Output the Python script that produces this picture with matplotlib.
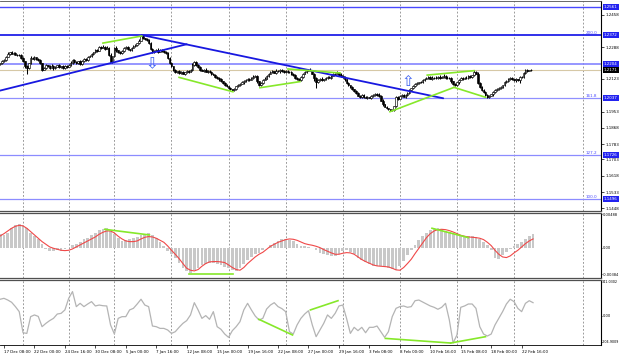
import numpy as np
import matplotlib
matplotlib.use("Agg")
import matplotlib.pyplot as plt
import matplotlib.transforms as mtransforms

# ---------------- data ----------------
first_bar = -2
first_open_pips = 200           # pips above 1.2000
close_pips = [
    205, 214, 222, 238, 252, 262, 255, 258, 250, 246,
    248, 232, 215, 190, 178, 205, 232, 228, 236, 225,
    222, 205, 172, 180, 195, 188, 182, 190, 178, 186,
    195, 184, 188, 180, 192, 186, 198, 205, 222, 212,
    205, 215, 200, 218, 228, 222, 238, 245, 252, 262,
    275, 270, 290, 285, 292, 280, 284, 250, 212, 240,
    284, 272, 262, 258, 270, 282, 290, 278, 274, 286,
    296, 300, 310, 322, 347, 336, 330, 326, 310, 280,
    263, 270, 276, 265, 274, 270, 262, 258, 232, 206,
    188, 170, 159, 162, 154, 160, 150, 158, 164, 160,
    170, 195, 211, 198, 184, 170, 166, 172, 160, 164,
    159, 150, 144, 133, 128, 120, 110, 100, 91, 85,
    75, 70, 65, 72, 85, 90, 98, 105, 112, 117,
    124, 118, 130, 134, 138, 110, 91, 100, 118, 125,
    140, 150, 159, 162, 156, 166, 162, 170, 164, 158,
    166, 160, 159, 150, 142, 130, 120, 117, 135, 150,
    159, 165, 170, 168, 150, 128, 105, 118, 125, 117,
    122, 128, 133, 130, 140, 148, 150, 154, 146, 138,
    133, 120, 100, 90, 81, 70, 60, 50, 35, 29,
    40, 30, 25, 28, 24, 32, 40, 45, 39, 35,
    10, -10, -23, -30, -35, -38, -39, -20, 29, 20,
    35, 40, 30, 39, 50, 65, 75, 85, 98, 100,
    106, 107, 118, 124, 130, 133, 125, 128, 130, 126,
    135, 130, 133, 140, 128, 130, 128, 110, 95, 91,
    105, 118, 128, 125, 130, 128, 138, 133, 142, 159,
    150, 102, 80, 65, 55, 40, 29, 35, 42, 55,
    65, 70, 78, 81, 90, 107, 112, 120, 128, 122,
    117, 120, 115, 133, 135, 152, 170, 165, 168, 171,
]
wick_unit_pips = 3
wick_up = ("1212312121 1211213121 2111212321 1212121312 1121212121 2121213121 "
           "1312121212 1213121212 1212121211 1121312121 2312121121 1212112121 "
           "1212121212 1213121212 1212131212 1212121212 1213121212 1212121312 "
           "1212121212 1212121213 1211112121 1212121212 1212121312 1213121212 "
           "1212121213 1312121212 1212121212 1212121211")
wick_dn = ("1212121212 1213912121 2121212121 1212121212 2121212121 1212121312 "
           "1212121212 1212121212 1212121212 1212121212 1212121212 1212121212 "
           "2121212121 1212132121 1212121212 1212121212 1212159121 2121212121 "
           "1212121212 1212121212 1212121212 1212121212 1212121212 1212121212 "
           "1212121212 1212121212 1212121212 1414121212")

level_prices = [1.2500, 1.2351, 1.2203, 1.2023, 1.1726, 1.1499]
level_tags = ["1.2561", "1.2372", "1.2204", "1.2037", "1.1726", "1.1496"]
level_fibs = ["", "200.0", "", "161.8", "127.2", "100.0"]
bid_price = 1.2171

price_ticks = [1.2458, 1.2288, 1.2123, 1.1953, 1.1868, 1.1783, 1.1703, 1.1618, 1.1533, 1.1448]

date_labels = ["17 Dec 08:00", "22 Dec 00:00", "24 Dec 16:00", "30 Dec 08:00", "5 Jan 00:00",
               "7 Jan 16:00", "12 Jan 08:00", "15 Jan 00:00", "19 Jan 16:00", "22 Jan 08:00",
               "27 Jan 00:00", "29 Jan 16:00", "3 Feb 08:00", "8 Feb 00:00", "10 Feb 16:00",
               "15 Feb 08:00", "18 Feb 00:00", "22 Feb 16:00"]
label_step = 16
grid_bars = [10, 34, 58, 88, 118, 148, 178, 208, 238, 268, 304]

ind_step = 2
macd_hist_e5 = [
    194, 184, 218, 290, 329, 348, 329, 281, 218, 169,
    121, 48, -24, -48, -48, -39, -48, -24, 0, 39,
    58, 87, 121, 145, 184, 218, 252, 271, 281, 242,
    194, 145, 97, 106, 121, 136, 160, 184, 203, 213,
    184, 145, 87, 24, -48, -97, -145, -218, -290, -339,
    -363, -329, -290, -252, -232, -218, -223, -242, -252, -281,
    -300, -329, -339, -300, -242, -184, -136, -97, -73, -39,
    0, 39, 73, 97, 121, 131, 116, 97, 58, 29,
    19, 10, -10, -39, -73, -97, -106, -121, -121, -87,
    -48, -39, -58, -97, -145, -184, -203, -232, -261, -266,
    -266, -281, -290, -310, -319, -266, -194, -106, -39, 39,
    106, 169, 218, 252, 281, 281, 266, 242, 223, 203,
    184, 174, 165, 165, 169, 155, 126, 87, 39, -39,
    -145, -160, -106, -63, -24, 24, 58, 87, 121, 165,
    203,
]
macd_signal_e5 = [
    169, 203, 242, 281, 310, 324, 315, 281, 232, 184,
    136, 87, 48, 10, -10, -24, -39, -44, -39, -19,
    10, 39, 68, 97, 126, 155, 194, 223, 242, 242,
    213, 165, 126, 97, 87, 87, 97, 126, 150, 160,
    155, 136, 106, 77, 24, -39, -97, -160, -232, -300,
    -329, -339, -319, -271, -232, -208, -203, -203, -208, -218,
    -252, -290, -319, -329, -290, -232, -184, -136, -97, -68,
    -24, 19, 48, 77, 97, 116, 126, 121, 106, 82,
    58, 44, 34, 19, 0, -29, -53, -77, -97, -97,
    -82, -73, -77, -97, -136, -174, -203, -227, -252, -266,
    -271, -276, -281, -300, -324, -329, -290, -232, -169, -87,
    -10, 68, 145, 203, 242, 261, 266, 261, 247, 227,
    203, 179, 165, 155, 150, 145, 136, 116, 77, 29,
    -39, -97, -136, -145, -121, -77, -39, 10, 58, 97,
    126,
]
cci_values = [
    127, 134, 121, 104, 71, 33, -127, -132, -5, 8,
    -3, -81, -56, -35, -18, 15, 20, 46, 134, 185,
    71, 96, 71, 91, 109, 76, 83, 78, 76, -68,
    -137, -18, -5, -5, 46, 58, 91, 127, 83, 71,
    -76, -81, -94, -94, -106, -132, -119, -86, -56, -35,
    8, 101, 46, -18, 3, -25, 33, -81, -101, -137,
    -162, -111, -81, -43, 46, 96, 46, 0, -30, -18,
    53, 83, 101, 71, 56, 33, -119, -137, -68, -18,
    15, 40, -68, -157, -106, -56, 8, -18, 20, 76,
    83, -18, -132, -86, -111, -86, -127, -86, -86, -76,
    -119, -162, -119, -5, 58, 71, 76, 66, 71, 116,
    121, 106, 91, 76, 66, 51, 66, 96, -30, -205,
    -144, 66, 76, 91, 91, 58, -81, -137, -152, -137,
    -68, -18, 33, 91, 127, 109, 58, 33, 96, 116,
    101,
]
macd_range = (-0.00442, 0.00503)
macd_tick_vals = [0.00488, 0.0, -0.00384]
macd_tick_text = ["0.00488", "0.00", "-0.00384"]
cci_range = (-220, 273)
cci_top_text, cci_bottom_text = "341.0302", "-204.9009"

# analyst drawings (bar index, value)
trend_lines = [((-2.1, 1.2062), (96.0, 1.2304)),
               ((72.4, 1.2352), (230.8, 1.2022))]
green_price = [((52, 1.2310), (72.4, 1.2347)),
               ((92, 1.2131), (120.3, 1.2056)),
               ((134.5, 1.2077), (155.5, 1.2109)),
               ((149.2, 1.2175), (176.6, 1.2154)),
               ((202.8, 1.1952), (236.5, 1.2079)),
               ((222.4, 1.2143), (247.0, 1.2166)),
               ((236.5, 1.2079), (253.1, 1.2027))]
green_macd = [((52.9, 0.00266), (76.4, 0.00184)),
              ((97.2, -0.00378), (120.4, -0.00378)),
              ((224.9, 0.00281), (244.0, 0.00145))]
green_cci = [((133.9, -25), (151.6, -144)),
             ((161.0, 46), (175.5, 116)),
             ((200.4, -170), (234.7, -205)),
             ((234.7, -205), (253.0, -157))]
arrows = [(77.6, 1.2204, "\u21e9"), (212.0, 1.2108, "\u21e7")]

# ---------------- figure ----------------
W, H = 620, 357
fig = plt.figure(figsize=(W / 100, H / 100), dpi=100)
fig.patch.set_facecolor("white")

def px_axes(top, bottom, left=0, right=601):
    return fig.add_axes([left / W, 1 - bottom / H, (right - left) / W, (bottom - top) / H])

ax = px_axes(1, 211)
axm = px_axes(213, 278)
axc = px_axes(280, 345)

xlim = (-2.1, 313.7)
FS = 2.9
FS_SMALL = 2.4
GREEN = "#86e82a"
for a in (ax, axm, axc):
    a.set_xlim(*xlim)
    a.set_facecolor("white")
    a.spines["left"].set_visible(False)
    a.spines["right"].set_color("black")
    a.spines["right"].set_linewidth(0.8)
    for s in ("top", "bottom"):
        a.spines[s].set_color("#505050")
        a.spines[s].set_linewidth(0.9)
    a.yaxis.tick_right()
    a.tick_params(axis="y", length=2, width=0.5, labelsize=FS, pad=1.2, colors="black")
    for gb in grid_bars:
        a.axvline(gb, color="#8a8a8a", lw=0.6, ls=(0, (2.2, 2.2)), zorder=0)
ax.spines["top"].set_linewidth(0.6)
ax.tick_params(axis="x", bottom=False, labelbottom=False)
axm.tick_params(axis="x", bottom=False, labelbottom=False)

# ---- price candles ----
pip = 1e-4
closes = 1.2 + np.array(close_pips) * pip
opens = np.concatenate([[1.2 + first_open_pips * pip], closes[:-1]])
up = np.array([int(c) for c in wick_up.replace(" ", "")]) * wick_unit_pips * pip
dn = np.array([int(c) for c in wick_dn.replace(" ", "")]) * wick_unit_pips * pip
n = len(closes)
bars = np.arange(first_bar, first_bar + n)
body_lo = np.minimum(opens, closes)
body_hi = np.maximum(opens, closes)
highs = body_hi + up[:n]
lows = body_lo - dn[:n]
ax.vlines(bars, lows, highs, color="black", lw=0.75, zorder=3)
bull = closes >= opens
heights = np.maximum(body_hi - body_lo, 0.00005)
ax.bar(bars[bull], heights[bull], bottom=body_lo[bull], width=0.85,
       facecolor="white", edgecolor="black", linewidth=0.45, zorder=4)
ax.bar(bars[~bull], heights[~bull], bottom=body_lo[~bull], width=0.85,
       facecolor="black", edgecolor="black", linewidth=0.45, zorder=4)

ax.set_ylim(1.14340, 1.25295)
ax.set_yticks(price_ticks)
ax.set_yticklabels([f"{v:.4f}" for v in price_ticks])

# levels
lev_colors = ["#4848ff", "#2020e8", "#8484ff", "#9090ff", "#8c8cff", "#8c8cff"]
lev_widths = [1.0, 1.3, 1.2, 0.9, 0.9, 0.9]
blend = mtransforms.blended_transform_factory(ax.transAxes, ax.transData)
for lv, tag, fib, c, lw in zip(level_prices, level_tags, level_fibs, lev_colors, lev_widths):
    ax.axhline(lv, color=c, lw=lw, zorder=2)
    ax.text(1.005, lv, tag, transform=blend, ha="left", va="center", fontsize=FS,
            color="white", clip_on=False, zorder=10,
            bbox=dict(boxstyle="square,pad=0.25", fc="#2323f0", ec="none"))
    if fib:
        ax.text(0.994, lv, fib, transform=blend, ha="right", va="bottom", fontsize=3.0,
                color="#4a4aff", zorder=10)
ax.axhline(bid_price, color="#d6c8a6", lw=0.8, zorder=1)
ax.text(1.005, bid_price, f"{bid_price:.4f}", transform=blend, ha="left", va="center",
        fontsize=FS, color="white", clip_on=False, zorder=10,
        bbox=dict(boxstyle="square,pad=0.25", fc="black", ec="none"))

for (x0, y0), (x1, y1) in trend_lines:
    ax.plot([x0, x1], [y0, y1], color="#1818e0", lw=1.3, zorder=5, solid_capstyle="round")
for (x0, y0), (x1, y1) in green_price:
    ax.plot([x0, x1], [y0, y1], color=GREEN, lw=1.2, zorder=5)
for xb, yv, sym in arrows:
    ax.text(xb, yv, sym, fontsize=11, color="#3a5ef0", ha="center", va="center", zorder=6)

# ---- MACD ----
kb = first_bar + ind_step * np.arange(len(macd_hist_e5))
mh = np.array(macd_hist_e5) * 1e-5
ms = np.array(macd_signal_e5) * 1e-5
axm.bar(kb, mh, width=1.45, color="#c8c8c8", linewidth=0, zorder=2)
axm.plot(kb, ms, color="#f04848", lw=0.8, zorder=4)
for (x0, y0), (x1, y1) in green_macd:
    axm.plot([x0, x1], [y0, y1], color=GREEN, lw=1.2, zorder=5)
axm.set_ylim(*macd_range)
axm.set_yticks(macd_tick_vals)
axm.set_yticklabels(macd_tick_text)
axm.tick_params(axis="y", length=1, pad=0.6, labelsize=2.6)

# ---- CCI ----
cb = first_bar + ind_step * np.arange(len(cci_values))
axc.plot(cb, cci_values, color="#b4b4b4", lw=0.9, zorder=3)
for (x0, y0), (x1, y1) in green_cci:
    axc.plot([x0, x1], [y0, y1], color=GREEN, lw=1.2, zorder=5)
axc.set_ylim(*cci_range)
axc.set_yticks([0])
axc.set_yticklabels(["0.00"])
axc.tick_params(axis="y", length=1, pad=0.6, labelsize=2.6)
axc.text(1.002, 0.97, cci_top_text, transform=axc.transAxes, ha="left", va="center",
         fontsize=FS_SMALL, clip_on=False)
axc.text(1.002, 0.04, cci_bottom_text, transform=axc.transAxes, ha="left", va="center",
         fontsize=FS_SMALL, clip_on=False)
axc.spines["bottom"].set_color("black")
axc.spines["bottom"].set_linewidth(0.6)

label_bars = np.arange(len(date_labels)) * label_step
axc.set_xticks(label_bars)
axc.set_xticklabels(date_labels)
axc.tick_params(axis="x", length=2, width=0.5, labelsize=FS, pad=1.5)
for lab in axc.get_xticklabels():
    lab.set_ha("left")

fig.savefig("out.png", dpi=100, facecolor="white")
